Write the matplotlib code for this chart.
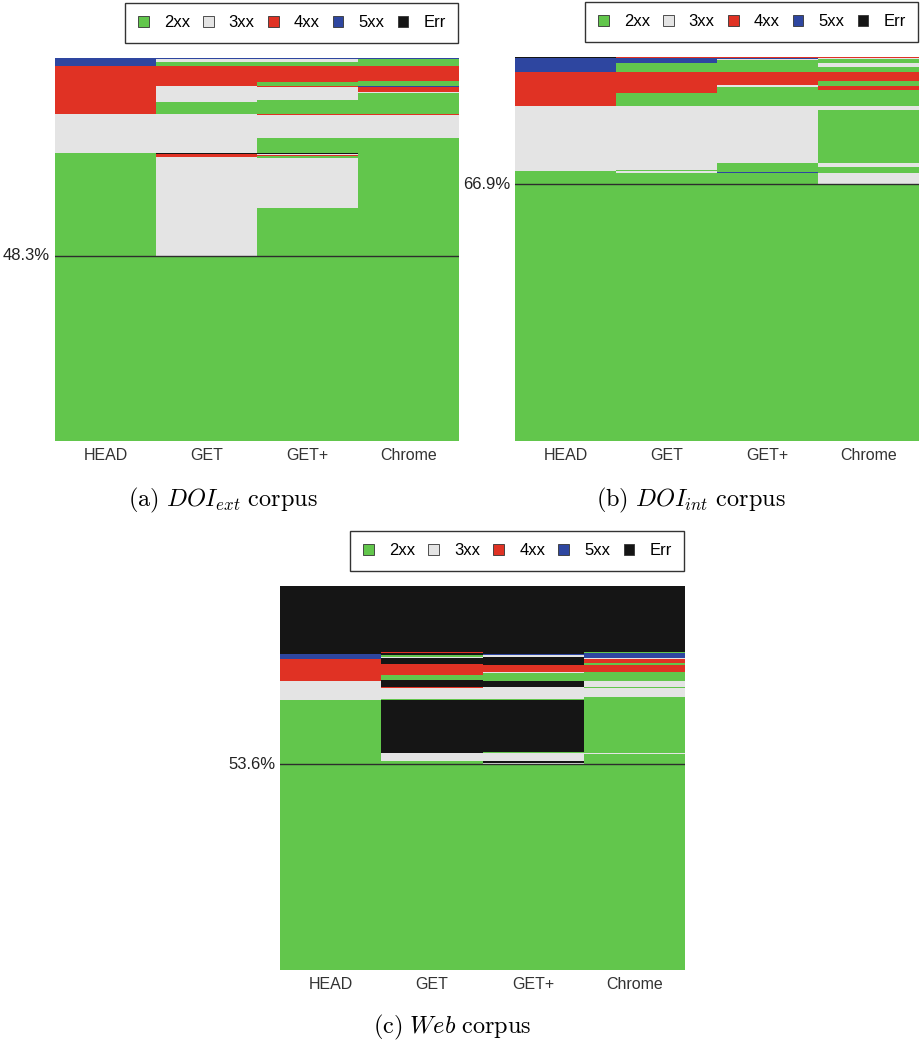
import matplotlib
matplotlib.use("Agg")
from matplotlib import pyplot as plt
from matplotlib.patches import Patch

# Request methods (columns) and status classes.
methods = ["HEAD", "GET", "GET+", "Chrome"]
statuses = ["2xx", "3xx", "4xx", "5xx", "Err"]
status_colors = {"2xx": "#62c64c", "3xx": "#e4e4e4", "4xx": "#e03224",
                 "5xx": "#2e46a0", "Err": "#151515"}

# Share (%) of URLs per outcome, stacked bottom -> top, one list per column.
# (a) DOI_ext corpus
ext_head = [("2xx", 75.2), ("3xx", 10.2), ("4xx", 12.5), ("5xx", 2.1)]
ext_get = [("2xx", 48.3), ("3xx", 25.8), ("4xx", 0.8), ("Err", 0.3), ("3xx", 10.2),
           ("2xx", 3.1), ("3xx", 4.2), ("4xx", 5.2), ("2xx", 1.0), ("3xx", 0.8),
           ("5xx", 0.3)]
ext_getp = [("2xx", 60.8), ("3xx", 13.1), ("2xx", 0.5), ("4xx", 0.3), ("3xx", 0.3),
            ("Err", 0.3), ("2xx", 3.7), ("3xx", 6.0), ("4xx", 0.3), ("2xx", 3.7),
            ("3xx", 3.4), ("4xx", 0.3), ("2xx", 1.0), ("4xx", 4.2), ("2xx", 1.0),
            ("3xx", 0.8), ("5xx", 0.3)]
ext_chrome = [("2xx", 79.0), ("3xx", 6.0), ("4xx", 0.3), ("2xx", 5.5), ("3xx", 0.3),
              ("4xx", 1.3), ("5xx", 0.3), ("2xx", 1.3), ("4xx", 3.9), ("2xx", 1.8),
              ("5xx", 0.3)]

# (b) DOI_int corpus
int_head = [("2xx", 70.3), ("3xx", 16.9), ("4xx", 8.9), ("5xx", 3.6), ("Err", 0.3)]
int_get = [("2xx", 69.9), ("3xx", 0.3), ("2xx", 0.3), ("3xx", 16.7), ("2xx", 3.4),
           ("4xx", 5.5), ("2xx", 2.3), ("5xx", 1.3), ("4xx", 0.3)]
int_getp = [("2xx", 69.8), ("5xx", 0.3), ("2xx", 2.3), ("3xx", 14.7), ("2xx", 5.2),
            ("3xx", 0.3), ("4xx", 3.4), ("2xx", 3.1), ("3xx", 0.3), ("5xx", 0.3),
            ("4xx", 0.3)]
int_chrome = [("2xx", 66.9), ("3xx", 2.9), ("2xx", 1.6), ("3xx", 1.0), ("2xx", 13.9),
              ("3xx", 1.0), ("2xx", 4.2), ("4xx", 1.0), ("2xx", 1.3), ("4xx", 2.3),
              ("2xx", 1.3), ("3xx", 1.0), ("2xx", 1.0), ("3xx", 0.3), ("4xx", 0.3)]

# (c) Web corpus
web_head = [("2xx", 70.3), ("3xx", 4.9), ("4xx", 5.7), ("5xx", 1.3), ("Err", 17.8)]
web_get = [("2xx", 54.4), ("3xx", 2.1), ("Err", 13.8), ("2xx", 0.3), ("3xx", 2.9),
           ("4xx", 0.3), ("Err", 1.6), ("2xx", 1.3), ("4xx", 2.9), ("Err", 1.6),
           ("3xx", 0.3), ("2xx", 0.5), ("Err", 0.5), ("4xx", 0.3), ("Err", 17.2)]
web_getp = [("2xx", 53.6), ("3xx", 0.3), ("Err", 0.5), ("3xx", 2.1), ("2xx", 0.3),
            ("Err", 13.5), ("2xx", 0.3), ("3xx", 3.1), ("Err", 1.6), ("2xx", 2.1),
            ("3xx", 0.3), ("4xx", 1.6), ("Err", 2.1), ("3xx", 0.5), ("5xx", 0.3),
            ("Err", 17.8)]
web_chrome = [("2xx", 56.2), ("3xx", 0.3), ("2xx", 14.6), ("3xx", 2.3), ("2xx", 0.3),
              ("3xx", 1.6), ("2xx", 2.3), ("4xx", 1.8), ("2xx", 0.5), ("4xx", 1.0),
              ("3xx", 0.3), ("5xx", 1.3), ("2xx", 0.3), ("Err", 17.2)]

# Share that is 2xx for every method.
agree_ext, agree_int, agree_web = 48.3, 66.9, 53.6

plt.rcParams['font.family'] = ['Liberation Sans', 'DejaVu Sans']
plt.rcParams['mathtext.fontset'] = 'cm'

fig = plt.figure(figsize=(9.22, 10.43), dpi=100)

panels = [
    ([0.0597, 0.5772, 0.4382, 0.3672], [ext_head, ext_get, ext_getp, ext_chrome],
     agree_ext, r"$\mathrm{(a)}\ DOI_{ext}\ \mathrm{corpus}$", (0.242, 0.5206)),
    ([0.5586, 0.5772, 0.4382, 0.3682], [int_head, int_get, int_getp, int_chrome],
     agree_int, r"$\mathrm{(b)}\ DOI_{int}\ \mathrm{corpus}$", (0.749, 0.5206)),
    ([0.3037, 0.0700, 0.4393, 0.3682], [web_head, web_get, web_getp, web_chrome],
     agree_web, r"$\mathrm{(c)}\ Web\ \mathrm{corpus}$", (0.491, 0.0153)),
]

handles = [Patch(facecolor=status_colors[s], edgecolor='#333333', linewidth=0.6)
           for s in statuses]

for rect, columns, agree, caption, cap_xy in panels:
    ax = fig.add_axes(rect)
    for i, segs in enumerate(columns):
        bottom = 0.0
        for status, share in segs:
            ax.bar(i, share, bottom=bottom, width=1.0,
                   color=status_colors[status], linewidth=0)
            bottom += share
    ax.axhline(agree, color='#2d2d2d', lw=1.0)
    ax.text(-0.012, agree, f"{agree:.1f}%", transform=ax.get_yaxis_transform(),
            ha='right', va='center', fontsize=12, color='#222222')
    ax.set_xlim(-0.5, 3.5)
    ax.set_ylim(0, 100)
    ax.set_xticks(range(len(methods)))
    ax.set_xticklabels(methods, fontsize=11.5, color='#333333')
    ax.set_yticks([])
    ax.tick_params(axis='x', length=0, pad=5)
    for sp in ax.spines.values():
        sp.set_visible(False)

    leg = ax.legend(handles, statuses, loc='lower left', ncol=5, mode='expand',
                    bbox_to_anchor=(0.174, 1.04, 0.824, 0), borderaxespad=0,
                    fontsize=12, handlelength=0.65, handleheight=0.65,
                    handletextpad=0.9, borderpad=0.75, fancybox=False,
                    framealpha=1)
    leg.get_frame().set_edgecolor('#333333')
    leg.get_frame().set_linewidth(1.0)

    fig.text(cap_xy[0], cap_xy[1], caption, ha='center', va='center', fontsize=17.5)

plt.savefig('out.png', dpi=100)
